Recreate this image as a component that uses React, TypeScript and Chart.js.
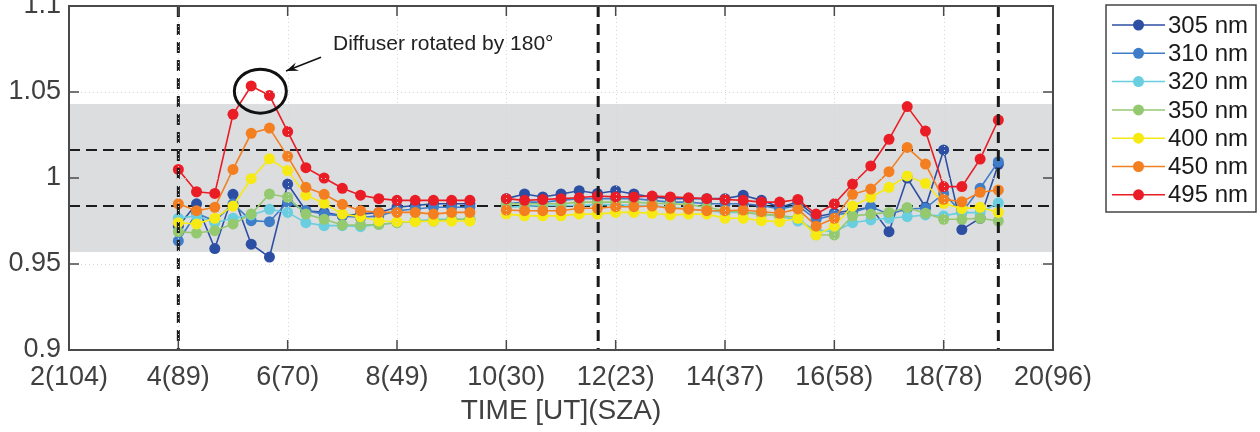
import React, { useEffect, useRef } from 'react';
import { Chart, registerables } from 'chart.js';

Chart.register(...registerables);

// ---------- data ----------
const times = [
  4, 4.333, 4.667, 5, 5.333, 5.667, 6, 6.333, 6.667, 7, 7.333, 7.667, 8, 8.333, 8.667, 9, 9.333,
  9.667,
  10, 10.333, 10.667, 11, 11.333, 11.667, 12, 12.333, 12.667, 13, 13.333, 13.667, 14, 14.333,
  14.667, 15, 15.333, 15.667, 16, 16.333, 16.667, 17, 17.333, 17.667, 18, 18.333, 18.667, 19,
];

const s305 = [
  0.972, 0.985, 0.959, 0.9905, 0.9615, 0.954, 0.9965, 0.981, 0.98, 0.978, 0.979, 0.98, 0.983, 0.984, 0.985, 0.985, 0.985,
  null,
  0.988, 0.9907, 0.989, 0.9907, 0.9926, 0.991, 0.9926, 0.9907, 0.989, 0.988, 0.988, 0.988, 0.988, 0.99,
  0.987, 0.983, 0.986, 0.9775, 0.9795, 0.9814, 0.983, 0.9688, 1.0, 0.983, 1.0163, 0.97, 0.9766, 1.008,
];
const s310 = [
  0.9634, 0.9795, 0.975, 0.985, 0.9752, 0.9746, 0.986, 0.981, 0.979, 0.978, 0.977, 0.978, 0.981, 0.982, 0.983, 0.983, 0.983,
  null,
  0.985, 0.986, 0.986, 0.987, 0.988, 0.988, 0.988, 0.988, 0.987, 0.986, 0.986, 0.985, 0.985, 0.985,
  0.984, 0.982, 0.984, 0.976, 0.9785, 0.98, 0.9833, 0.979, 0.982, 0.9824, 0.991, 0.98, 0.994, 1.0095,
];
const s320 = [
  0.9766, 0.978, 0.974, 0.9766, 0.9785, 0.9818, 0.98, 0.974, 0.9723, 0.9723, 0.9717, 0.973, 0.974, 0.975, 0.976, 0.976, 0.976,
  null,
  0.983, 0.9835, 0.984, 0.984, 0.984, 0.9845, 0.9845, 0.984, 0.984, 0.983, 0.982, 0.981, 0.98, 0.98,
  0.979, 0.978, 0.975, 0.9698, 0.9688, 0.974, 0.9756, 0.9766, 0.9775, 0.9785, 0.978, 0.98, 0.9798, 0.9856,
];
const s350 = [
  0.9688, 0.968, 0.9694, 0.9733, 0.979, 0.9907, 0.9888, 0.979, 0.976, 0.9727, 0.9727, 0.973, 0.974, 0.975, 0.975, 0.976, 0.976,
  null,
  0.985, 0.985, 0.985, 0.985, 0.986, 0.986, 0.986, 0.986, 0.9853, 0.985, 0.9845, 0.983, 0.981, 0.98,
  0.979, 0.978, 0.977, 0.967, 0.9669, 0.9779, 0.979, 0.98, 0.9828, 0.9795, 0.976, 0.976, 0.9766, 0.975,
];
const s400 = [
  0.974, 0.9733, 0.9766, 0.9837, 0.9996, 1.0112, 1.0043, 0.99, 0.9853, 0.979, 0.9775, 0.975, 0.9746, 0.9746, 0.975, 0.975, 0.975,
  null,
  0.979, 0.978, 0.978, 0.978, 0.979, 0.979, 0.98, 0.98, 0.9795, 0.9785, 0.979, 0.979, 0.9766, 0.9766,
  0.9752, 0.9746, 0.9766, 0.9669, 0.972, 0.9837, 0.9888, 0.9946, 1.0012, 0.9969, 0.9853, 0.9822, 0.983, 0.98,
];
const s450 = [
  0.985, 0.981, 0.983, 1.005, 1.026, 1.029, 1.0126, 0.9946, 0.9905, 0.9847, 0.981, 0.98, 0.98, 0.98, 0.979, 0.98, 0.98,
  null,
  0.9814, 0.981, 0.981, 0.981, 0.9824, 0.9824, 0.9833, 0.9833, 0.9837, 0.9824, 0.9819, 0.981, 0.981, 0.9814,
  0.9804, 0.9795, 0.982, 0.972, 0.9766, 0.9905, 0.9936, 1.0037, 1.0178, 1.0081, 0.9876, 0.9862, 0.9917, 0.993,
];
const s495 = [
  1.005, 0.992, 0.991, 1.037, 1.0535, 1.048, 1.027, 1.006, 1.0, 0.994, 0.99, 0.988, 0.987, 0.987, 0.987, 0.987, 0.987,
  null,
  0.988, 0.987, 0.9875, 0.988, 0.9885, 0.9895, 0.989, 0.989, 0.9895, 0.989, 0.9885, 0.988, 0.9875, 0.987,
  0.986, 0.986, 0.9875, 0.979, 0.985, 0.9965, 1.007, 1.0225, 1.0415, 1.0273, 0.995, 0.995, 1.011, 1.0337,
];

const seriesValues = [s305, s310, s320, s350, s400, s450, s495];
const seriesLabels = ['305 nm', '310 nm', '320 nm', '350 nm', '400 nm', '450 nm', '495 nm'];
const seriesColors = ['#2d4fa3', '#3f7dc8', '#69cfe0', '#94c96f', '#f6ea12', '#f37f21', '#ea1d26'];

const xTickValues = [2, 4, 6, 8, 10, 12, 14, 16, 18, 20];
const xTickLabels = ['2(104)', '4(89)', '6(70)', '8(49)', '10(30)', '12(23)', '14(37)', '16(58)', '18(78)', '20(96)'];
const yTickValues = [0.9, 0.95, 1, 1.05, 1.1];
const yTickLabels = ['0.9', '0.95', '1', '1.05', '1.1'];

const bandRange = [0.957, 1.043];
const hLineValues = [0.984, 1.016];
const vLineValues = [4, 11.68, 19];

const xTitle = 'TIME [UT](SZA)';
const annotationText = 'Diffuser rotated by 180\u00b0';
const annotationCircle = [5.5, 1.0505];
const annotationArrowFrom = [6.61, 1.0702];
const annotationArrowTo = [5.97, 1.0622];
const annotationTextAt = [6.83, 1.0775];

const FONT = '"Liberation Sans", Arial, Helvetica, sans-serif';
const TEXT = '#404040';

const overlayPlugin = {
  id: 'overlay',
  beforeDatasetsDraw(chart: any) {
    const { ctx, chartArea: a, scales } = chart;
    const y = scales.y;
    ctx.save();
    const yt = y.getPixelForValue(bandRange[1]);
    const yb = y.getPixelForValue(bandRange[0]);
    ctx.fillStyle = '#dcdddf';
    ctx.fillRect(a.left, yt, a.right - a.left, yb - yt);
    ctx.strokeStyle = '#1e1e1e';
    ctx.lineWidth = 2;
    ctx.setLineDash([11, 6]);
    hLineValues.forEach((v) => {
      const py = Math.round(y.getPixelForValue(v));
      ctx.beginPath();
      ctx.moveTo(a.left, py);
      ctx.lineTo(a.right, py);
      ctx.stroke();
    });
    ctx.restore();
  },
  afterDatasetsDraw(chart: any) {
    const { ctx, chartArea: a, scales } = chart;
    const x = scales.x, y = scales.y;
    ctx.save();
    // vertical dashed lines
    ctx.strokeStyle = '#1a1a1a';
    ctx.lineWidth = 3;
    ctx.setLineDash([11, 7]);
    vLineValues.forEach((v) => {
      const px = x.getPixelForValue(v);
      ctx.beginPath();
      ctx.moveTo(px, a.top);
      ctx.lineTo(px, a.bottom);
      ctx.stroke();
    });
    // dotted grid (on top)
    ctx.strokeStyle = '#d6d6d6';
    ctx.lineWidth = 1;
    ctx.setLineDash([1, 3]);
    xTickValues.forEach((v) => {
      const px = Math.round(x.getPixelForValue(v)) + 0.5;
      if (px <= a.left + 1 || px >= a.right - 1) return;
      ctx.beginPath();
      ctx.moveTo(px, a.top);
      ctx.lineTo(px, a.bottom);
      ctx.stroke();
    });
    yTickValues.forEach((v) => {
      const py = Math.round(y.getPixelForValue(v)) + 0.5;
      if (py <= a.top + 1 || py >= a.bottom - 1) return;
      ctx.beginPath();
      ctx.moveTo(a.left, py);
      ctx.lineTo(a.right, py);
      ctx.stroke();
    });
    // frame
    ctx.setLineDash([]);
    ctx.strokeStyle = '#4a4a4a';
    ctx.lineWidth = 2;
    ctx.strokeRect(a.left, a.top, a.right - a.left, a.bottom - a.top);
    const tl = 10;
    ctx.lineWidth = 1.5;
    xTickValues.forEach((v) => {
      const px = x.getPixelForValue(v);
      ctx.beginPath();
      ctx.moveTo(px, a.bottom);
      ctx.lineTo(px, a.bottom - tl);
      ctx.moveTo(px, a.top);
      ctx.lineTo(px, a.top + tl);
      ctx.stroke();
    });
    yTickValues.forEach((v) => {
      const py = y.getPixelForValue(v);
      ctx.beginPath();
      ctx.moveTo(a.left, py);
      ctx.lineTo(a.left + tl, py);
      ctx.moveTo(a.right, py);
      ctx.lineTo(a.right - tl, py);
      ctx.stroke();
    });
    // annotation
    const cx = x.getPixelForValue(annotationCircle[0]);
    const cy = y.getPixelForValue(annotationCircle[1]);
    ctx.strokeStyle = '#111';
    ctx.lineWidth = 3;
    ctx.beginPath();
    ctx.ellipse(cx, cy, 26, 22, 0, 0, Math.PI * 2);
    ctx.stroke();
    const ax0 = x.getPixelForValue(annotationArrowFrom[0]);
    const ay0 = y.getPixelForValue(annotationArrowFrom[1]);
    const ax1 = x.getPixelForValue(annotationArrowTo[0]);
    const ay1 = y.getPixelForValue(annotationArrowTo[1]);
    ctx.lineWidth = 1.5;
    ctx.beginPath();
    ctx.moveTo(ax0, ay0);
    ctx.lineTo(ax1, ay1);
    ctx.stroke();
    const ang = Math.atan2(ay1 - ay0, ax1 - ax0);
    const hl = 13, hw = 0.35;
    ctx.fillStyle = '#111';
    ctx.beginPath();
    ctx.moveTo(ax1, ay1);
    ctx.lineTo(ax1 - hl * Math.cos(ang - hw), ay1 - hl * Math.sin(ang - hw));
    ctx.lineTo(ax1 - hl * 0.6 * Math.cos(ang), ay1 - hl * 0.6 * Math.sin(ang));
    ctx.lineTo(ax1 - hl * Math.cos(ang + hw), ay1 - hl * Math.sin(ang + hw));
    ctx.closePath();
    ctx.fill();
    ctx.fillStyle = '#222';
    ctx.font = `21px ${FONT}`;
    ctx.textAlign = 'left';
    ctx.textBaseline = 'middle';
    ctx.fillText(annotationText, x.getPixelForValue(annotationTextAt[0]), y.getPixelForValue(annotationTextAt[1]));
    // legend
    const lx = 1106, ly = 5, lw = 150, lh = 207;
    ctx.fillStyle = '#fff';
    ctx.fillRect(lx, ly, lw, lh);
    ctx.strokeStyle = '#444';
    ctx.lineWidth = 1.5;
    ctx.strokeRect(lx, ly, lw, lh);
    chart.data.datasets.forEach((ds: any, i: number) => {
      const ry = 25 + i * 28.3;
      ctx.strokeStyle = ds.borderColor;
      ctx.lineWidth = 1.5;
      ctx.beginPath();
      ctx.moveTo(1112, ry);
      ctx.lineTo(1165, ry);
      ctx.stroke();
      ctx.fillStyle = ds.borderColor;
      ctx.beginPath();
      ctx.arc(1138.5, ry, 5.5, 0, Math.PI * 2);
      ctx.fill();
      ctx.fillStyle = '#1a1a1a';
      ctx.font = `24px ${FONT}`;
      ctx.textAlign = 'left';
      ctx.textBaseline = 'middle';
      ctx.fillText(ds.label, 1168, ry + 1);
    });
    ctx.restore();
  },
};

export default function App() {
  const ref = useRef<HTMLCanvasElement | null>(null);
  useEffect(() => {
    if (!ref.current) return;
    const datasets = seriesValues.map((vals, i) => ({
      label: seriesLabels[i],
      data: times.map((t, j) => ({ x: t, y: vals[j] })),
      borderColor: seriesColors[i],
      backgroundColor: seriesColors[i],
      pointBackgroundColor: seriesColors[i],
      pointBorderWidth: 0,
      pointRadius: 5.5,
      borderWidth: 1.6,
      spanGaps: false,
      order: seriesValues.length - i,
    }));
    const chart = new Chart(ref.current, {
      type: 'line',
      data: { datasets },
      options: {
        animation: false,
        responsive: false,
        maintainAspectRatio: false,
        layout: { padding: { left: 0, right: 207, top: 6, bottom: 0 } },
        plugins: { legend: { display: false }, tooltip: { enabled: false } },
        scales: {
          x: {
            type: 'linear',
            min: 2,
            max: 20,
            grid: { display: false, drawTicks: false },
            border: { display: false },
            afterBuildTicks: (s: any) => {
              s.ticks = xTickValues.map((v) => ({ value: v }));
            },
            ticks: {
              autoSkip: false,
              maxRotation: 0,
              padding: 11,
              color: TEXT,
              font: { family: FONT, size: 27 },
              callback: (v: any) => xTickLabels[xTickValues.indexOf(Number(v))] ?? '',
            },
            title: {
              display: true,
              text: xTitle,
              color: TEXT,
              font: { family: FONT, size: 28 },
              padding: { top: 0, bottom: 4 },
            },
            afterFit: (s: any) => {
              s.height = 82;
              s.paddingLeft = 0;
              s.paddingRight = 0;
            },
          },
          y: {
            type: 'linear',
            min: 0.9,
            max: 1.1,
            grid: { display: false, drawTicks: false },
            border: { display: false },
            afterBuildTicks: (s: any) => {
              s.ticks = yTickValues.map((v) => ({ value: v }));
            },
            ticks: {
              padding: 8,
              color: TEXT,
              font: { family: FONT, size: 27 },
              callback: (v: any) => {
                const idx = yTickValues.findIndex((t) => Math.abs(t - Number(v)) < 1e-9);
                return idx >= 0 ? yTickLabels[idx] : '';
              },
            },
            afterFit: (s: any) => {
              s.width = 69;
              s.paddingTop = 0;
              s.paddingBottom = 0;
            },
          },
        },
      },
      plugins: [overlayPlugin],
    } as any);
    return () => chart.destroy();
  }, []);
  return (
    <div style={{ position: 'fixed', left: 0, top: 0, width: 1260, height: 432, background: '#fff' }}>
      <canvas ref={ref} width={1260} height={432} style={{ width: 1260, height: 432, display: 'block' }} />
    </div>
  );
}
